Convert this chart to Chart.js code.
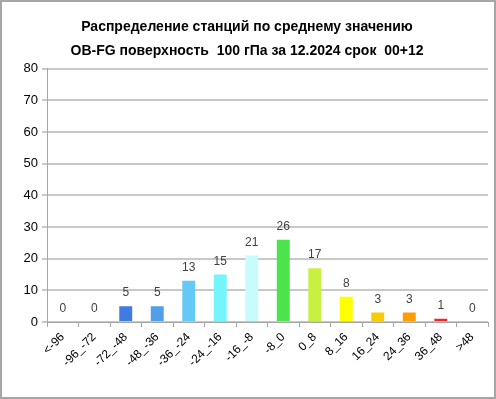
<!DOCTYPE html>
<html>
<head>
<meta charset="utf-8">
<script src="https://cdn.jsdelivr.net/npm/chart.js@4/dist/chart.umd.min.js"></script>
<style>
  body { margin: 0; background: #fff; }
  #box { width: 496px; height: 399px; border: 2px solid #a6a6a6; box-sizing: border-box; }
</style>
</head>
<body>
<div id="box"><canvas id="hist" width="492" height="395"></canvas></div>
<script>
var categories = ['<-96', '-96_-72', '-72_-48', '-48_-36', '-36_-24', '-24_-16', '-16_-8',
  '-8_0', '0_8', '8_16', '16_24', '24_36', '36_48', '>48'];
var stationCounts = [0, 0, 5, 5, 13, 15, 21, 26, 17, 8, 3, 3, 1, 0];
var barColors = ['#3f7be0', '#3f7be0', '#3f7be0', '#4fa0e8', '#66c8f4', '#74f4fb', '#c8fbfc',
  '#4ce44c', '#c8f040', '#ffff00', '#f8cc00', '#ff9c00', '#f02828', '#f02828'];
var yTicks = [0, 10, 20, 30, 40, 50, 60, 70, 80];

var labelFont = 'Liberation Sans';

// values above the bars
var valueLabels = {
  id: 'valueLabels',
  afterDatasetsDraw: function(chart) {
    var ctx = chart.ctx;
    var meta = chart.getDatasetMeta(0);
    ctx.save();
    ctx.font = '12px ' + labelFont;
    ctx.fillStyle = '#404040';
    ctx.textAlign = 'center';
    ctx.textBaseline = 'bottom';
    meta.data.forEach(function(bar, i) {
      ctx.fillText(stationCounts[i], bar.x, bar.y - 7);
    });
    ctx.restore();
  }
};

var ctx = document.getElementById('hist').getContext('2d');
var config = {
  type: 'bar',
  data: {
    labels: categories,
    datasets: [{
      data: stationCounts,
      backgroundColor: barColors,
      borderWidth: 0,
      barPercentage: 0.82,
      categoryPercentage: 0.5
    }]
  },
  options: {
    responsive: false,
    animation: false,
    layout: { padding: { left: 4, right: 6, top: 0, bottom: 0 } },
    plugins: {
      legend: { display: false },
      tooltip: { enabled: false },
      title: {
        display: true,
        text: ['Распределение станций по среднему значению', 'OB-FG поверхность  100 гПа за 12.2024 срок  00+12'],
        font: { family: labelFont, size: 14, weight: 'bold', lineHeight: 1.7 },
        color: '#000',
        padding: { top: 13, bottom: 6 }
      }
    },
    scales: {
      x: {
        grid: { display: true, drawOnChartArea: false, offset: true, color: '#a6a6a6', tickLength: 5, lineWidth: 1 },
        border: { color: '#a6a6a6', width: 1 },
        ticks: {
          maxRotation: 45, minRotation: 45, autoSkip: false,
          color: '#000', font: { family: labelFont, size: 12 }
        },
        afterFit: function(scale) { scale.height = 75; }
      },
      y: {
        min: 0, max: 80,
        afterBuildTicks: function(scale) {
          scale.ticks = yTicks.map(function(v) { return { value: v }; });
        },
        grid: { color: '#c8c8c8', lineWidth: 2, tickLength: 5 },
        border: { color: '#a6a6a6', width: 1 },
        ticks: { color: '#000', font: { family: labelFont, size: 13 }, padding: 4 },
        afterFit: function(scale) { scale.width = 41; }
      }
    }
  },
  plugins: [valueLabels]
};

var myChart = new Chart(ctx, config);
</script>
</body>
</html>
